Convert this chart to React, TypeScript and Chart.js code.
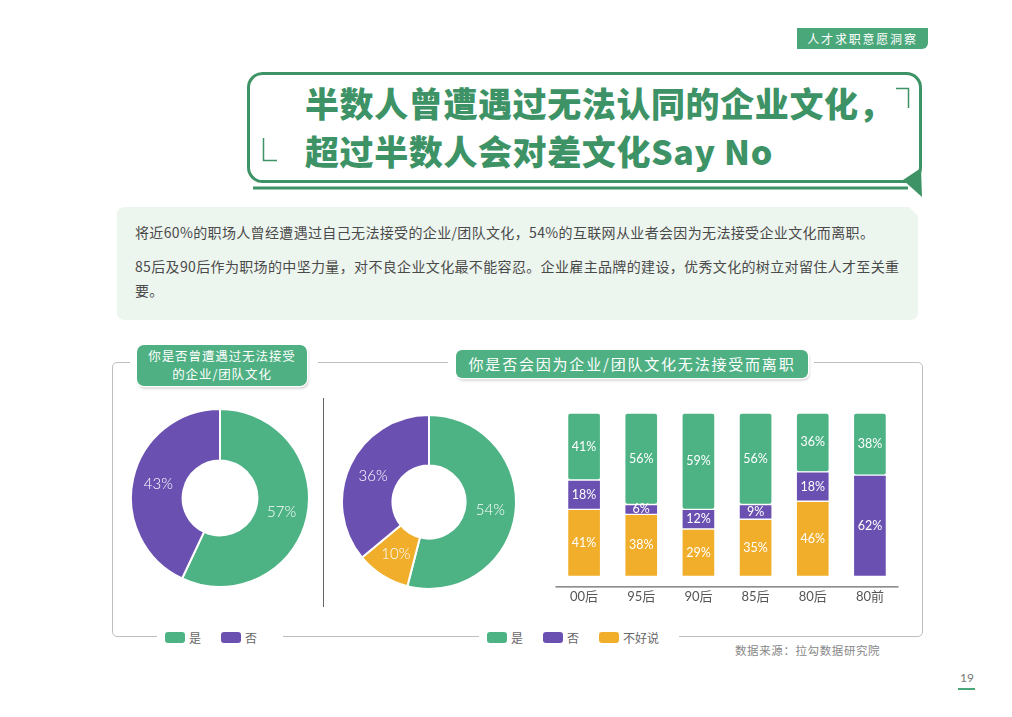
import React, { useEffect, useRef } from "react";
import { Chart, registerables } from "chart.js";

Chart.register(...registerables);

// ---------- data ----------
const donut1Labels = ["是", "否"];
const donut1Values = [57, 43];

const donut2Labels = ["是", "不好说", "否"];
const donut2Values = [54, 10, 36];

const barCategories = ["00后", "95后", "90后", "85后", "80后", "80前"];
const barYes = [41, 56, 59, 56, 36, 38];
const barNo = [18, 6, 12, 9, 18, 62];
const barUnsure = [41, 38, 29, 35, 46, 0];

const legend1Labels = ["是", "否"];
const legend2Labels = ["是", "否", "不好说"];

// ---------- styles ----------
const GREEN = "#4db385";
const PURPLE = "#6a50b1";
const YELLOW = "#f0ae2b";
const TITLE_GREEN = "#3d9366";
const FONT_CJK = '"Noto Sans CJK SC", "Noto Sans", sans-serif';
const FONT_NUM = 'Lato, "Noto Sans CJK SC", sans-serif';

const colorFor: Record<string, string> = { 是: GREEN, 否: PURPLE, 不好说: YELLOW };

const arcLabelPlugin = {
  id: "arcLabels",
  afterDatasetsDraw(chart: any) {
    const ctx = chart.ctx;
    const meta = chart.getDatasetMeta(0);
    const data = chart.data.datasets[0].data;
    ctx.save();
    ctx.fillStyle = "#ffffff";
    ctx.font = `300 15px ${FONT_NUM}`;
    ctx.textAlign = "center";
    ctx.textBaseline = "middle";
    meta.data.forEach((arc: any, i: number) => {
      const p = arc.getCenterPoint(true);
      ctx.fillText(data[i] + "%", p.x, p.y);
    });
    ctx.restore();
  },
};

const barLabelPlugin = {
  id: "barLabels",
  afterDatasetsDraw(chart: any) {
    const ctx = chart.ctx;
    ctx.save();
    ctx.fillStyle = "#ffffff";
    ctx.font = `12.5px ${FONT_NUM}`;
    ctx.textAlign = "center";
    ctx.textBaseline = "middle";
    chart.data.datasets.forEach((ds: any, di: number) => {
      const meta = chart.getDatasetMeta(di);
      meta.data.forEach((bar: any, i: number) => {
        const v = ds.data[i];
        if (!v) return;
        const { x, y, base } = bar.getProps(["x", "y", "base"], true);
        ctx.fillText(v + "%", x, (y + base) / 2);
      });
    });
    ctx.restore();
  },
};

const axisLinePlugin = {
  id: "axisLine",
  afterDraw(chart: any) {
    const { ctx, chartArea } = chart;
    ctx.save();
    ctx.strokeStyle = "#444";
    ctx.lineWidth = 1;
    ctx.beginPath();
    ctx.moveTo(chartArea.left, chartArea.bottom + 10.5);
    ctx.lineTo(chartArea.right, chartArea.bottom + 10.5);
    ctx.stroke();
    ctx.restore();
  },
};

function Donut({ labels, values, size, left, top }: any) {
  const ref = useRef<HTMLCanvasElement>(null);
  useEffect(() => {
    const chart = new Chart(ref.current!, {
      type: "doughnut",
      data: {
        labels,
        datasets: [
          {
            data: values,
            backgroundColor: labels.map((l: string) => colorFor[l]),
            borderColor: "#ffffff",
            borderWidth: 2,
          },
        ],
      },
      options: {
        responsive: false,
        animation: false,
        cutout: "42%",
        plugins: { legend: { display: false }, tooltip: { enabled: false } },
      },
      plugins: [arcLabelPlugin],
    });
    return () => chart.destroy();
  }, []);
  return (
    <canvas
      ref={ref}
      width={size}
      height={size}
      style={{ position: "absolute", left, top, width: size, height: size }}
    />
  );
}

function StackedBars() {
  const ref = useRef<HTMLCanvasElement>(null);
  useEffect(() => {
    const chart = new Chart(ref.current!, {
      type: "bar",
      data: {
        labels: barCategories,
        datasets: [
          { label: "不好说", data: barUnsure, backgroundColor: YELLOW },
          { label: "否", data: barNo, backgroundColor: PURPLE },
          { label: "是", data: barYes, backgroundColor: GREEN },
        ].map((d) => ({
          ...d,
          barThickness: 33,
          borderColor: "#ffffff",
          borderWidth: 1,
          borderRadius: 3,
          borderSkipped: false,
        })),
      },
      options: {
        responsive: false,
        animation: false,
        layout: { padding: { left: 10.5, right: 11.5, top: 13, bottom: 0 } },
        plugins: { legend: { display: false }, tooltip: { enabled: false } },
        scales: {
          x: {
            stacked: true,
            grid: { display: false, drawTicks: false },
            border: { display: false },
            ticks: { padding: 13, color: "#555", font: { size: 13, family: FONT_NUM } },
          },
          y: { stacked: true, display: false, min: 0, max: 100 },
        },
      },
      plugins: [barLabelPlugin, axisLinePlugin],
    });
    return () => chart.destroy();
  }, []);
  return (
    <canvas
      ref={ref}
      width={365}
      height={218}
      style={{ position: "absolute", left: 545, top: 400, width: 365, height: 218 }}
    />
  );
}

function LegendItem({ label }: { label: string }) {
  return (
    <span style={{ display: "inline-flex", alignItems: "center", marginRight: 20 }}>
      <span
        style={{
          display: "inline-block",
          width: 20,
          height: 11,
          borderRadius: 3,
          background: colorFor[label],
          marginRight: 4,
        }}
      />
      <span style={{ fontSize: 12, color: "#666" }}>{label}</span>
    </span>
  );
}

export default function App() {
  const abs = (s: React.CSSProperties): React.CSSProperties => ({ position: "absolute", ...s });
  const titleLine: React.CSSProperties = {
    position: "absolute",
    left: 305,
    color: TITLE_GREEN,
    fontSize: 34,
    fontWeight: 900,
    lineHeight: "40px",
    height: 40,
    letterSpacing: 0.6,
    whiteSpace: "nowrap",
  };
  return (
    <div
      style={{
        position: "absolute",
        left: 0,
        top: 0,
        width: 1012,
        height: 717,
        background: "#fff",
        overflow: "hidden",
        fontFamily: FONT_CJK,
      }}
    >
      {/* top tag */}
      <div
        style={abs({
          left: 797,
          top: 28,
          width: 131,
          height: 21,
          background: "#4aa77a",
          borderBottomRightRadius: 6,
          color: "#fff",
          fontSize: 12,
          letterSpacing: 1.8,
          lineHeight: "21px",
          textAlign: "center",
        })}
      >
        人才求职意愿洞察
      </div>

      {/* title frame */}
      <svg width={1012} height={220} style={abs({ left: 0, top: 0 })}>
        <rect x={248.5} y={73.5} width={672} height={108} rx={14} ry={14} fill="none" stroke={TITLE_GREEN} strokeWidth={3} />
        <line x1={253} y1={188} x2={908} y2={188} stroke={TITLE_GREEN} strokeWidth={3} />
        <polygon points="903,180 922,197 921,168" fill={TITLE_GREEN} />
        <polyline points="896,88.5 908.5,88.5 908.5,108" fill="none" stroke={TITLE_GREEN} strokeWidth={1.5} />
        <polyline points="263.5,138 263.5,160.5 277,160.5" fill="none" stroke={TITLE_GREEN} strokeWidth={1.5} />
      </svg>
      <div style={{ ...titleLine, top: 83 }}>半数人曾遭遇过无法认同的企业文化，</div>
      <div style={{ ...titleLine, top: 131 }}>超过半数人会对差文化Say No</div>

      {/* description */}
      <div
        style={abs({
          left: 117,
          top: 207,
          width: 801,
          height: 113,
          background: "#edf5ef",
          borderRadius: 7,
          clipPath: "polygon(0 0, calc(100% - 9px) 0, 100% 9px, 100% 100%, 0 100%)",
        })}
      />
      <div style={abs({ left: 135, top: 222, fontSize: 14, color: "#4a4a4a", letterSpacing: 0.35, whiteSpace: "nowrap" })}>
        将近60%的职场人曾经遭遇过自己无法接受的企业/团队文化，54%的互联网从业者会因为无法接受企业文化而离职。
      </div>
      <div style={abs({ left: 135, top: 256, fontSize: 14, color: "#4a4a4a", letterSpacing: 0.35, whiteSpace: "nowrap" })}>
        85后及90后作为职场的中坚力量，对不良企业文化最不能容忍。企业雇主品牌的建设，优秀文化的树立对留住人才至关重
      </div>
      <div style={abs({ left: 135, top: 280, fontSize: 14, color: "#4a4a4a", letterSpacing: 0.35 })}>要。</div>

      {/* lower frame */}
      <div
        style={abs({
          left: 112,
          top: 362,
          width: 811,
          height: 275,
          border: "1px solid #bfbfbf",
          borderRadius: 5,
          boxSizing: "border-box",
        })}
      />
      {/* vertical divider */}
      <div style={abs({ left: 323, top: 398, width: 1, height: 209, background: "#666" })} />

      {/* label 1 */}
      <div style={abs({ left: 130, top: 342, width: 188, height: 48, background: "#fff" })} />
      <div
        style={abs({
          left: 137,
          top: 345,
          width: 170,
          height: 41,
          background: "#4fb083",
          borderRadius: 7,
          boxShadow: "0 0 0 1.5px #fff, 1px 2px 3px rgba(0,0,0,0.3)",
        })}
      />
      <div style={abs({ left: 137, top: 347, width: 170, height: 18, lineHeight: "18px", color: "#fff", fontSize: 12.5, letterSpacing: 0.9, textAlign: "center" })}>
        你是否曾遭遇过无法接受
      </div>
      <div style={abs({ left: 137, top: 365, width: 170, height: 18, lineHeight: "18px", color: "#fff", fontSize: 12.5, letterSpacing: 0.9, textAlign: "center" })}>
        的企业/团队文化
      </div>

      {/* label 2 */}
      <div style={abs({ left: 448, top: 345, width: 366, height: 38, background: "#fff" })} />
      <div
        style={abs({
          left: 456,
          top: 350,
          width: 352,
          height: 28,
          background: "#4fb083",
          borderRadius: 6,
          boxShadow: "0 0 0 1.5px #fff, 1px 2px 3px rgba(0,0,0,0.3)",
          color: "#fff",
          fontSize: 15,
          letterSpacing: 1.8,
          lineHeight: "28px",
          textAlign: "center",
        })}
      >
        你是否会因为企业/团队文化无法接受而离职
      </div>

      {/* charts */}
      <Donut labels={donut1Labels} values={donut1Values} size={180} left={130} top={408} />
      <Donut labels={donut2Labels} values={donut2Values} size={176} left={341} top={414} />
      <StackedBars />

      {/* legends */}
      <div
        style={abs({
          left: 157,
          top: 629,
          height: 16,
          paddingLeft: 8,
          paddingRight: 6,
          background: "#fff",
          display: "flex",
          alignItems: "center",
        })}
      >
        {legend1Labels.map((l) => (
          <LegendItem key={l} label={l} />
        ))}
      </div>
      <div
        style={abs({
          left: 479,
          top: 629,
          height: 16,
          paddingLeft: 8,
          paddingRight: 0,
          background: "#fff",
          display: "flex",
          alignItems: "center",
        })}
      >
        {legend2Labels.map((l) => (
          <LegendItem key={l} label={l} />
        ))}
      </div>

      {/* source */}
      <div style={abs({ left: 735, top: 642, fontSize: 11.5, color: "#888", letterSpacing: 0.6 })}>
        数据来源：拉勾数据研究院
      </div>

      {/* page number */}
      <div style={abs({ left: 960, top: 670, fontSize: 12, color: "#777", fontFamily: FONT_NUM })}>19</div>
      <div style={abs({ left: 958, top: 688, width: 17, height: 1.5, background: "#4aa77a" })} />
    </div>
  );
}
